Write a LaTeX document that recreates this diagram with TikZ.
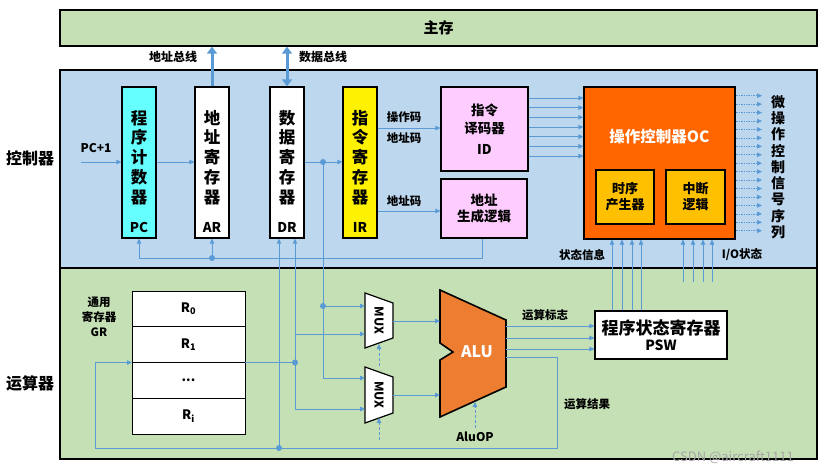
\documentclass[tikz,border=0pt]{standalone}
\usepackage{fontspec}
\setmainfont{Noto Sans CJK SC}
\usetikzlibrary{arrows.meta}
\usetikzlibrary{positioning}

\definecolor{wireblue}{HTML}{5B9BD5}
\definecolor{ctrlblue}{HTML}{BDD7EE}
\definecolor{memgreen}{HTML}{C5E0B4}
\definecolor{pccyan}{HTML}{66FFFF}
\definecolor{idpink}{HTML}{FFCCFF}
\definecolor{ocorange}{HTML}{FF6600}
\definecolor{subgold}{HTML}{FFC000}
\definecolor{aluorange}{HTML}{ED7D31}

\begin{document}
\begin{tikzpicture}[x=1pt,y=-1pt,>={Triangle[length=5pt,width=4.5pt]},font=\bfseries]
		\tikzset{panel/.style = {shape=rectangle, draw, line width=1.4pt, inner sep=0pt},
			reg/.style = {shape=rectangle, draw, line width=1.2pt, fill=white, minimum width=34pt, minimum height=151pt},
			regtxt/.style = {align=center, inner sep=0pt, font=\bfseries\fontsize{16.5}{19.8}\selectfont},
			regid/.style = {inner sep=0pt, font=\bfseries\fontsize{13.5}{16}\selectfont},
			box/.style = {shape=rectangle, draw, line width=1.2pt, align=center, inner sep=0pt},
			grrow/.style = {shape=rectangle, draw, line width=1pt, fill=white, outer sep=0pt, minimum width=113pt, minimum height=35.75pt, font=\bfseries\fontsize{13}{15}\selectfont},
			lbl/.style = {inner sep=0pt, font=\bfseries\fontsize{11.5}{14}\selectfont},
			wire/.style = {draw=wireblue, line width=0.9pt},
			selwire/.style = {draw=wireblue, line width=0.8pt, densely dashed},
			sigwire/.style = {draw=wireblue, line width=0.7pt, densely dotted},
			bus/.style = {draw=wireblue, line width=3pt, >={Triangle[length=7pt,width=10pt]}},
			dot/.style = {fill=wireblue}}
		\useasboundingbox (0,0) rectangle (831,472);

		% panels
		\node[panel, fill=memgreen, minimum width=757pt, minimum height=36pt, font=\bfseries\fontsize{15}{18}\selectfont] (mem) at (438.5,28) {主存};
		\node[panel, fill=ctrlblue, minimum width=757pt, minimum height=198pt] (ctrl) at (438.5,169) {};
		\node[panel, fill=memgreen, minimum width=757pt, minimum height=191pt] (arith) at (438.5,363.5) {};
		\node[font=\bfseries\fontsize{16}{19}\selectfont] (ctrllabel) at (30,158) {控制器};
		\node[font=\bfseries\fontsize{16}{19}\selectfont] (arithlabel) at (30,383) {运算器};

		% registers
		\node[reg, fill=pccyan] (PC) at (139,162.5) {};
		\node[regtxt] (pctxt) at (139,157.5) {程\\序\\计\\数\\器};
		\node[regid] (pcid) at (139,227) {PC};
		\node[reg] (AR) at (212,162.5) {};
		\node[regtxt] (artxt) at (212,157.5) {地\\址\\寄\\存\\器};
		\node[regid] (arid) at (212,227) {AR};
		\node[reg] (DR) at (287,162.5) {};
		\node[regtxt] (drtxt) at (287,157.5) {数\\据\\寄\\存\\器};
		\node[regid] (drid) at (287,227) {DR};
		\node[reg, fill=yellow] (IR) at (360,162.5) {};
		\node[regtxt] (irtxt) at (360,157.5) {指\\令\\寄\\存\\器};
		\node[regid] (irid) at (360,227) {IR};

		% buses to main memory
		\draw[bus, ->] (AR.north) -- (AR.north |- mem.south);
		\draw[bus, <->] (DR.north) -- (DR.north |- mem.south);
		\node[lbl, font=\bfseries\fontsize{12}{14}\selectfont] (abus) at (173,57) {地址总线};
		\node[lbl, font=\bfseries\fontsize{12}{14}\selectfont] (dbus) at (323,57) {数据总线};

		% decoder, address logic
		\node[box, fill=idpink, minimum width=87pt, minimum height=84pt, font=\bfseries\fontsize{13.5}{18}\selectfont] (ID) at (484.5,129) {指令\\译码器\\[3pt]ID};
		\node[box, fill=idpink, minimum width=86pt, minimum height=59pt, font=\bfseries\fontsize{13.5}{15.5}\selectfont] (AG) at (484,208.5) {地址\\生成逻辑};

		% operation controller
		\node[box, fill=ocorange, minimum width=151pt, minimum height=152pt] (OC) at (659.5,163) {};
		\node[text=white, font=\bfseries\fontsize{15.5}{18}\selectfont] (octxt) at (659.5,137) {操作控制器OC};
		\node[box, fill=subgold, minimum width=58pt, minimum height=54pt, font=\bfseries\fontsize{13}{16}\selectfont] (TG) at (625,197) {时序\\产生器};
		\node[box, fill=subgold, minimum width=59pt, minimum height=54pt, font=\bfseries\fontsize{13}{16}\selectfont] (INT) at (695.5,197) {中断\\逻辑};
		\node[align=center, inner sep=0pt, font=\bfseries\fontsize{14}{16.25}\selectfont] (sigtxt) at (778,167) {微\\操\\作\\控\\制\\信\\号\\序\\列};

		% general registers
		\node[grrow] (R0) at (188.5,308.9) {R\textsubscript{0}};
		\node[grrow, below=0pt of R0] (R1) {R\textsubscript{1}};
		\node[grrow, below=0pt of R1] (Rd) {...};
		\node[grrow, below=0pt of Rd] (Ri) {R\textsubscript{i}};
		\node[align=center, inner sep=0pt, font=\bfseries\fontsize{11.5}{15}\selectfont] (grtxt) at (99,317) {通用\\寄存器\\GR};

		% MUX and ALU
		\draw[fill=white, line width=1.2pt] (365,293) -- (393,303) -- (393,338) -- (365,348) -- cycle;
		\node[rotate=-90, inner sep=0pt, font=\bfseries\fontsize{12}{14}\selectfont] (mux1) at (379,320.5) {MUX};
		\draw[fill=white, line width=1.2pt] (365,367) -- (393,377) -- (393,413) -- (365,423) -- cycle;
		\node[rotate=-90, inner sep=0pt, font=\bfseries\fontsize{12}{14}\selectfont] (mux2) at (379,395) {MUX};
		\draw[fill=aluorange, line width=1.6pt, line join=miter] (440,290) -- (506,320) -- (506,387) -- (440,417) -- (440,360) -- (453,352) -- (440,343) -- cycle;
		\node[text=white, font=\bfseries\fontsize{16}{19}\selectfont] (alu) at (477,352) {ALU};
		\node[box, fill=white, minimum width=132pt, minimum height=48pt, font=\bfseries\fontsize{17}{17}\selectfont] (PSW) at (661,335) {程序状态寄存器\\[-1pt]{\fontsize{14}{14}\selectfont PSW}};

		% labels
		\node[lbl, font=\bfseries\fontsize{12}{14}\selectfont] (pcinc) at (96,148) {PC+1};
		\node[lbl] (opcode) at (404,117) {操作码};
		\node[lbl] (addr1) at (404,138) {地址码};
		\node[lbl] (addr2) at (404,201) {地址码};
		\node[lbl] (state) at (582,255) {状态信息};
		\node[lbl] (iostate) at (742,255) {I/O状态};
		\node[lbl] (flags) at (545,315) {运算标志};
		\node[lbl] (result) at (587,404) {运算结果};
		\node[lbl, font=\bfseries\fontsize{12}{14}\selectfont] (aluop) at (475,437) {AluOP};
		\node[inner sep=0pt, text=gray!70, font=\fontsize{13}{15}\selectfont] (mark) at (733,457) {CSDN @aircraft1111};

		% coordinates
		\coordinate (pcin) at (81,162);
		\coordinate (drsplit) at (323,162);
		\coordinate (opc) at (400,128);
		\coordinate (adc) at (400,211);
		\coordinate (agturn) at (482,258);
		\coordinate (m1a) at (365,306);
		\coordinate (m1b) at (365,334);
		\coordinate (m2a) at (365,378);
		\coordinate (m2b) at (365,409);
		\coordinate (m1o) at (393,321);
		\coordinate (m2o) at (393,395);
		\coordinate (a1) at (440,321);
		\coordinate (a2) at (440,395);
		\coordinate (grsplit) at (295,362.5);
		\coordinate (resout) at (506,357);
		\coordinate (rescorner) at (557,448);
		\coordinate (gin) at (95,448);
		\coordinate (drin) at (279,448);
		\coordinate (aluR) at (506,0);
		\coordinate (sigend) at (762,0);
		\coordinate (s1a) at (379,366);
		\coordinate (s1b) at (379,344);
		\coordinate (s2a) at (379,440);
		\coordinate (s2b) at (379,418);
		\coordinate (opin) at (475,428);
		\coordinate (opout) at (475,402);

		% controller wires
		\draw[wire, ->] (pcin) -- (PC.west |- pcin);
		\draw[wire, ->] (PC.east |- pcin) -- (AR.west |- pcin);
		\draw[wire, ->] (DR.east |- pcin) -- (IR.west |- pcin);
		\draw[wire, ->] (IR.east |- opc) -- (ID.west |- opc);
		\draw[wire, ->] (IR.east |- adc) -- (AG.west |- adc);
		\draw[wire, ->] (AG.south -| agturn) -- (agturn) -| (PC.south);
		\draw[wire, ->] (AR.south |- agturn) -- (AR.south);
		\foreach \y in {98,107.7,117.3,127,136.7,146.3,156} {
			\coordinate (t) at (0,\y);
			\draw[wire, ->] (ID.east |- t) -- (OC.west |- t);
		}
		\foreach \i in {0,...,16} {
			\pgfmathsetmacro{\y}{95.7+8.44*\i}
			\coordinate (t) at (0,\y);
			\draw[sigwire, ->] (OC.east |- t) -- (sigend |- t);
		}
		\foreach \x in {612,622,632,641} {
			\coordinate (t) at (\x,0);
			\draw[wire, line width=0.7pt, ->] (PSW.north -| t) -- (OC.south -| t);
		}
		\foreach \x in {683,693,703,712} {
			\coordinate (t) at (\x,282);
			\draw[wire, line width=0.7pt, ->] (t) -- (OC.south -| t);
		}

		% datapath wires
		\draw[wire, ->] (drsplit) |- (m2a);
		\draw[wire, ->] (drsplit |- m1a) -- (m1a);
		\draw[wire] (R1.south east) -- (grsplit);
		\draw[wire, ->] (grsplit) -- (grsplit |- DR.south);
		\draw[wire, ->] (grsplit) |- (m2b);
		\draw[wire, ->] (grsplit |- m1b) -- (m1b);
		\draw[wire, ->] (m1o) -- (a1);
		\draw[wire, ->] (m2o) -- (a2);
		\draw[selwire, ->] (s1a) -- (s1b);
		\draw[selwire, ->] (s2a) -- (s2b);
		\draw[selwire, ->] (opin) -- (opout);
		\foreach \y in {326,338,349} {
			\coordinate (t) at (0,\y);
			\draw[wire, line width=0.7pt, ->] (aluR |- t) -- (PSW.west |- t);
		}
		\draw[wire, ->] (resout) -| (rescorner) -- (gin) |- (R1.south west);
		\draw[wire, ->] (drin) -- (drin |- DR.south);

		% junction dots
		\foreach \p in {drsplit, grsplit, drin} {
			\fill[dot] (\p) circle (3pt);
		}
		\fill[dot] (drsplit |- m1a) circle (3pt);
		\fill[dot] (AR.south |- agturn) circle (3pt);
\end{tikzpicture}
\end{document}
